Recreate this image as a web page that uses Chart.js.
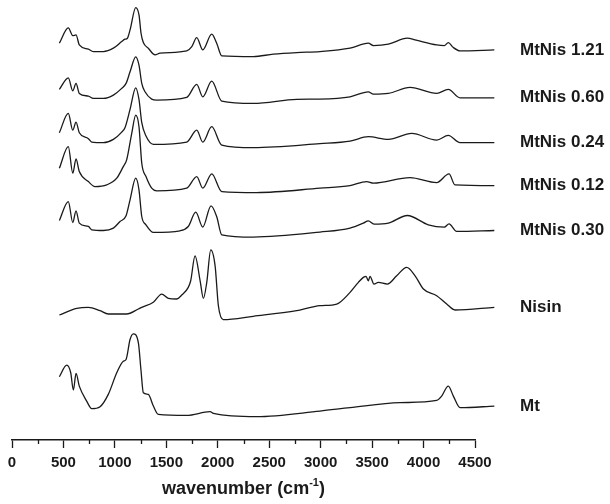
<!DOCTYPE html>
<html>
<head>
<meta charset="utf-8">
<script src="https://cdn.jsdelivr.net/npm/chart.js@4.4.1/dist/chart.umd.min.js"></script>
<style>
  html, body { margin: 0; padding: 0; background: #fff; }
</style>
</head>
<body>
<canvas id="ftir" width="610" height="504"></canvas>
<script>
// sample names, top trace first
const names = ["MtNis 1.21", "MtNis 0.60", "MtNis 0.24", "MtNis 0.12", "MtNis 0.30", "Nisin", "Mt"];

// vertical offset of each trace (arbitrary absorbance units)
const offsets = [391, 343, 298, 255, 210, 133, 34];

// spectra: [wavenumber (cm-1), relative absorbance]
const mtNis121 = [
  [400, 6.7], [474, 22], [511, 14.3], [538, 15], [565, 5], [640, 0.7], [681, -1.7],
  [764, -1.7], [847, 1.7], [916, 8.3], [943, 10.7], [963, 11.7], [985, 20], [1032, 42.3],
  [1059, 35], [1076, 16.7], [1095, 7.3], [1136, 1.7], [1192, -5], [1233, -3.3], [1454, -1],
  [1496, 3.3], [1537, 12.3], [1587, 0], [1661, 15.7], [1702, 6.7], [1744, -6], [2005, -6.7],
  [2171, -4.3], [2364, -2.7], [2557, -1.7], [2806, 1.7], [2957, 6.7], [2999, 4.3], [3123, 5.7],
  [3280, 11.7], [3344, 10], [3523, 5], [3586, 4.3], [3619, 7.3], [3661, 2.3], [3716, -1], [4000, 0]
];
const mtNis060 = [
  [400, 8.4], [474, 20], [511, 7], [538, 14.4], [565, 4.4], [640, 1.7], [681, -0.6],
  [764, -0.6], [847, 2.7], [916, 9.4], [952, 14.4], [985, 26], [1032, 41], [1059, 32.7],
  [1082, 14.4], [1109, 6], [1164, -1.3], [1206, -2.3], [1454, 0.4], [1537, 13.4], [1587, 1],
  [1661, 16.7], [1744, -3.3], [2005, -5.6], [2364, -1.6], [2557, -1.3], [2806, 1], [2957, 6],
  [2999, 3.7], [3123, 4.4], [3302, 10.4], [3523, 4.4], [3619, 8.4], [3716, 0], [4000, 0]
];
const mtNis024 = [
  [400, 10], [474, 29.3], [511, 12.6], [538, 20.6], [565, 10], [640, 4], [668, 0.6],
  [764, 0], [847, 3.3], [916, 10.6], [943, 15], [985, 33.3], [1032, 55], [1059, 43.3],
  [1082, 20], [1117, 6.6], [1178, -1.7], [1454, 0.6], [1537, 12.6], [1587, 0.6], [1661, 16],
  [1744, -2.4], [2005, -5], [2557, -1], [2806, 1.6], [2957, 6], [3123, 3.3], [3316, 9.3],
  [3523, 2.6], [3619, 7.3], [3716, 0], [4000, 0]
];
const mtNis012 = [
  [400, 17.4], [474, 39], [511, 12.4], [538, 26.7], [565, 14], [640, 4], [695, -1],
  [792, 0.7], [875, 7.4], [929, 19], [957, 25.7], [999, 52.4], [1032, 70.7], [1059, 59],
  [1082, 22.4], [1117, 9], [1164, -2.6], [1206, -5.3], [1454, -2.6], [1537, 9], [1587, -2.6],
  [1661, 11.7], [1744, -6], [2033, -7], [2557, -2.6], [2806, 0], [2943, 4], [2999, 2.4],
  [3302, 8], [3523, 3], [3625, 11.7], [3674, 0.7], [4000, 0]
];
const mtNis030 = [
  [400, 10], [474, 29], [511, 8], [538, 19.7], [565, 7.4], [640, 4], [668, 0.7],
  [764, 0], [847, 2.4], [902, 9], [952, 14.7], [985, 30.7], [1032, 52.4], [1059, 40.7],
  [1082, 14], [1117, 5.7], [1178, -2], [1399, -0.3], [1467, 4], [1529, 18.4], [1587, 3.4],
  [1655, 24.7], [1702, 14], [1744, -4.3], [2005, -6.6], [2557, -1.6], [2806, 2.4], [2916, 7.4],
  [2957, 9.7], [3004, 6.4], [3123, 7.4], [3280, 15], [3453, 5.7], [3586, 3.4], [3625, 6.7],
  [3688, -1], [4000, 0]
];
const nisin = [
  [400, -7.7], [544, -1], [640, 0], [737, -3.4], [805, -6.7], [957, -6.7], [1054, -1.7],
  [1082, 0], [1178, 5], [1247, 13.3], [1302, 9], [1371, 8.3], [1413, 12.3], [1467, 20],
  [1487, 26.6], [1523, 51.6], [1565, 26.6], [1592, 9], [1620, 25], [1653, 57.6], [1689, 41.6],
  [1716, 1.6], [1757, -12.4], [2005, -9], [2364, -3.4], [2557, 1.6], [2696, 3.3], [2806, 15],
  [2875, 25], [2916, 30], [2938, 31], [2957, 26.6], [2971, 31], [3004, 23.3], [3040, 25],
  [3114, 23.3], [3192, 31.6], [3275, 40], [3344, 31.6], [3413, 18.3], [3523, 11.6], [3606, 3.3],
  [3674, -2.7], [4000, 0]
];
const mt = [
  [400, 29.4], [461, 41], [494, 33.4], [516, 16], [538, 32.7], [565, 20], [626, 5],
  [668, -2.6], [737, -0.6], [805, 11.7], [875, 33.4], [929, 45], [952, 46.7], [985, 66.7],
  [1012, 72.4], [1054, 63.4], [1075, 36.7], [1095, 13.4], [1136, 11.7], [1178, 0], [1219, -8.3],
  [1454, -9.3], [1647, -5.6], [1675, -7.3], [2033, -10.6], [2557, -5], [2806, -1.6], [3219, 3.4],
  [3523, 5.7], [3564, 10], [3619, 20], [3661, 10], [3716, -1.6], [4000, 0]
];
const spectra = [mtNis121, mtNis060, mtNis024, mtNis012, mtNis030, nisin, mt];

// printed axis
const axisMin = 0;
const axisMax = 4500;
const majorStep = 500;
const minorStep = 250;
// the traces were pasted on their own wavenumber scale
const traceMin = 8;
const traceMax = 3840;

const ink = "#1a1a1a";
const fontFamily = "'Liberation Sans', Arial, Helvetica, sans-serif";

// minor ticks, sample names and the axis title with its superscript
const decorations = {
  id: "decorations",
  afterDraw(chart) {
    const ctx = chart.ctx;
    const xAxis = chart.scales.x;
    const yAxis = chart.scales.y;
    const bottom = chart.chartArea.bottom;
    ctx.save();
    ctx.strokeStyle = ink;
    ctx.lineWidth = 1.3;
    for (let v = axisMin + minorStep; v < axisMax; v += majorStep) {
      const px = Math.round(xAxis.getPixelForValue(v)) + 0.5;
      ctx.beginPath();
      ctx.moveTo(px, bottom);
      ctx.lineTo(px, bottom + 4);
      ctx.stroke();
    }

    ctx.fillStyle = ink;
    ctx.font = "bold 17px " + fontFamily;
    ctx.textAlign = "left";
    ctx.textBaseline = "middle";
    names.forEach((name, i) => {
      ctx.fillText(name, xAxis.right + 45, yAxis.getPixelForValue(offsets[i]));
    });

    const main = "wavenumber (cm";
    const sup = "-1";
    const close = ")";
    const bigFont = "bold 18px " + fontFamily;
    const smallFont = "bold 11px " + fontFamily;
    ctx.font = bigFont;
    const w1 = ctx.measureText(main).width;
    const w3 = ctx.measureText(close).width;
    ctx.font = smallFont;
    const w2 = ctx.measureText(sup).width;
    let x = (xAxis.left + xAxis.right) / 2 - (w1 + w2 + w3) / 2;
    const base = bottom + 54;
    ctx.textBaseline = "alphabetic";
    ctx.font = bigFont;
    ctx.fillText(main, x, base);
    x += w1;
    ctx.font = smallFont;
    ctx.fillText(sup, x, base - 8);
    x += w2;
    ctx.font = bigFont;
    ctx.fillText(close, x, base);
    ctx.restore();
  }
};

new Chart(document.getElementById("ftir").getContext("2d"), {
  type: "line",
  data: {
    datasets: spectra.map((s, i) => ({
      label: names[i],
      data: s.map((p) => ({ x: p[0], y: p[1] + offsets[i] })),
      xAxisID: "xs",
      yAxisID: "y",
      borderColor: ink,
      borderWidth: 1.3,
      pointRadius: 0,
      fill: false,
      cubicInterpolationMode: "monotone",
      clip: false,
    })),
  },
  options: {
    responsive: false,
    animation: false,
    layout: { padding: { left: 12, right: 135, top: 0, bottom: 26 } },
    plugins: { legend: { display: false }, tooltip: { enabled: false } },
    scales: {
      x: {
        type: "linear",
        position: "bottom",
        min: axisMin,
        max: axisMax,
        ticks: {
          stepSize: majorStep,
          color: ink,
          padding: 6,
          maxRotation: 0,
          font: { family: fontFamily, size: 15, weight: "bold" },
          callback: (v) => String(v),
        },
        grid: {
          drawOnChartArea: false,
          drawTicks: true,
          tickLength: 8,
          tickWidth: 1.3,
          tickColor: ink,
        },
        border: { display: true, color: ink, width: 1.5 },
      },
      xs: { type: "linear", display: false, position: "bottom", min: traceMin, max: traceMax },
      y: { type: "linear", display: false, min: 0, max: 441 },
    },
  },
  plugins: [decorations],
});
</script>
</body>
</html>
